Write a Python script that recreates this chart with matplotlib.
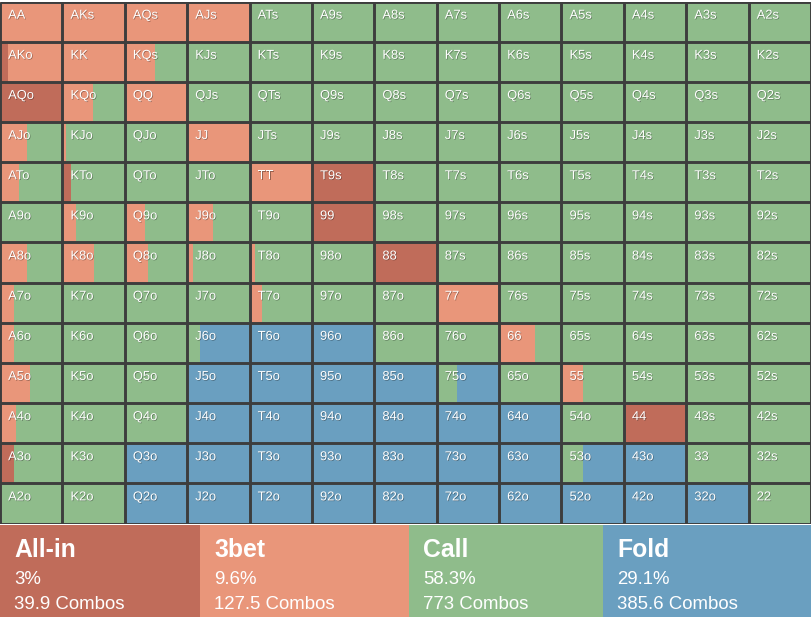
import matplotlib
matplotlib.use("Agg")
import matplotlib.pyplot as plt
import matplotlib.patheffects as pe

plt.rcParams['font.family'] = ['Liberation Sans', 'DejaVu Sans']

# ranks along rows/cols, suited above the diagonal, offsuit below
RANKS = ['A', 'K', 'Q', 'J', 'T', '9', '8', '7', '6', '5', '4', '3', '2']

# percent of each hand per action (row = first rank index, col = second)
allin = [
    [0, 0, 0, 0, 0, 0, 0, 0, 0, 0, 0, 0, 0],
    [13, 0, 0, 0, 0, 0, 0, 0, 0, 0, 0, 0, 0],
    [100, 0, 0, 0, 0, 0, 0, 0, 0, 0, 0, 0, 0],
    [0, 0, 0, 0, 0, 0, 0, 0, 0, 0, 0, 0, 0],
    [0, 14, 0, 0, 0, 100, 0, 0, 0, 0, 0, 0, 0],
    [0, 0, 0, 0, 0, 100, 0, 0, 0, 0, 0, 0, 0],
    [0, 0, 0, 0, 0, 0, 100, 0, 0, 0, 0, 0, 0],
    [0, 0, 0, 0, 0, 0, 0, 0, 0, 0, 0, 0, 0],
    [0, 0, 0, 0, 0, 0, 0, 0, 0, 0, 0, 0, 0],
    [0, 0, 0, 0, 0, 0, 0, 0, 0, 0, 0, 0, 0],
    [0, 0, 0, 0, 0, 0, 0, 0, 0, 0, 100, 0, 0],
    [22, 0, 0, 0, 0, 0, 0, 0, 0, 0, 0, 0, 0],
    [0, 0, 0, 0, 0, 0, 0, 0, 0, 0, 0, 0, 0],
]
threebet = [
    [100, 100, 100, 100, 0, 0, 0, 0, 0, 0, 0, 0, 0],
    [87, 100, 48, 0, 0, 0, 0, 0, 0, 0, 0, 0, 0],
    [0, 49, 100, 0, 0, 0, 0, 0, 0, 0, 0, 0, 0],
    [43, 5, 0, 100, 0, 0, 0, 0, 0, 0, 0, 0, 0],
    [30, 0, 0, 0, 100, 0, 0, 0, 0, 0, 0, 0, 0],
    [0, 22, 32, 41, 0, 0, 0, 0, 0, 0, 0, 0, 0],
    [43, 51, 37, 10, 9, 0, 0, 0, 0, 0, 0, 0, 0],
    [23, 0, 0, 0, 20, 0, 0, 100, 0, 0, 0, 0, 0],
    [22, 0, 0, 0, 0, 0, 0, 0, 57, 0, 0, 0, 0],
    [48, 0, 0, 0, 0, 0, 0, 0, 0, 35, 0, 0, 0],
    [26, 0, 0, 0, 0, 0, 0, 0, 0, 0, 0, 0, 0],
    [0, 0, 0, 0, 0, 0, 0, 0, 0, 0, 0, 0, 0],
    [0, 0, 0, 0, 0, 0, 0, 0, 0, 0, 0, 0, 0],
]
call = [
    [0, 0, 0, 0, 100, 100, 100, 100, 100, 100, 100, 100, 100],
    [0, 0, 52, 100, 100, 100, 100, 100, 100, 100, 100, 100, 100],
    [0, 51, 0, 100, 100, 100, 100, 100, 100, 100, 100, 100, 100],
    [57, 95, 100, 0, 100, 100, 100, 100, 100, 100, 100, 100, 100],
    [70, 86, 100, 100, 0, 0, 100, 100, 100, 100, 100, 100, 100],
    [100, 78, 68, 59, 100, 0, 100, 100, 100, 100, 100, 100, 100],
    [57, 49, 63, 90, 91, 100, 0, 100, 100, 100, 100, 100, 100],
    [77, 100, 100, 100, 80, 100, 100, 0, 100, 100, 100, 100, 100],
    [78, 100, 100, 20, 0, 0, 100, 100, 43, 100, 100, 100, 100],
    [52, 100, 100, 0, 0, 0, 0, 33, 100, 65, 100, 100, 100],
    [74, 100, 100, 0, 0, 0, 0, 0, 0, 100, 0, 100, 100],
    [78, 100, 0, 0, 0, 0, 0, 0, 0, 35, 0, 100, 100],
    [100, 100, 0, 0, 0, 0, 0, 0, 0, 0, 0, 0, 100],
]
fold = [
    [0, 0, 0, 0, 0, 0, 0, 0, 0, 0, 0, 0, 0],
    [0, 0, 0, 0, 0, 0, 0, 0, 0, 0, 0, 0, 0],
    [0, 0, 0, 0, 0, 0, 0, 0, 0, 0, 0, 0, 0],
    [0, 0, 0, 0, 0, 0, 0, 0, 0, 0, 0, 0, 0],
    [0, 0, 0, 0, 0, 0, 0, 0, 0, 0, 0, 0, 0],
    [0, 0, 0, 0, 0, 0, 0, 0, 0, 0, 0, 0, 0],
    [0, 0, 0, 0, 0, 0, 0, 0, 0, 0, 0, 0, 0],
    [0, 0, 0, 0, 0, 0, 0, 0, 0, 0, 0, 0, 0],
    [0, 0, 0, 80, 100, 100, 0, 0, 0, 0, 0, 0, 0],
    [0, 0, 0, 100, 100, 100, 100, 67, 0, 0, 0, 0, 0],
    [0, 0, 0, 100, 100, 100, 100, 100, 100, 0, 0, 0, 0],
    [0, 0, 100, 100, 100, 100, 100, 100, 100, 65, 100, 0, 0],
    [0, 0, 100, 100, 100, 100, 100, 100, 100, 100, 100, 100, 0],
]

ACTIONS = ['All-in', '3bet', 'Call', 'Fold']
ACTION_PCT = ['3%', '9.6%', '58.3%', '29.1%']
ACTION_COMBOS = ['39.9 Combos', '127.5 Combos', '773 Combos', '385.6 Combos']
COLORS = ['#c06c5a', '#e9967a', '#8fbc8b', '#6a9fc0']
GRID_COLOR = '#3d3d3d'

W, H = 811, 617
GRID_TOP, GRID_BOT = 1.6, 523.5
LEGEND_TOP = 525
LEGEND_EDGES = [0, 200, 409, 603, 811]

fig = plt.figure(figsize=(W / 100, H / 100), dpi=100)

ax = fig.add_axes([0, 1 - GRID_BOT / H, 1, (GRID_BOT - GRID_TOP) / H])
ax.set_xlim(0, 13)
ax.set_ylim(13, 0)
ax.axis('off')

shadow = [pe.SimplePatchShadow(offset=(0.5, -0.5), shadow_rgbFace='black', alpha=0.35), pe.Normal()]

for r in range(13):
    for c in range(13):
        left = c
        for mat, col in zip([allin, threebet, call, fold], COLORS):
            v = mat[r][c] / 100
            if v > 0:
                ax.barh(r + 0.5, v, left=left, height=1, color=col, linewidth=0)
                left += v
        if r == c:
            name = RANKS[r] + RANKS[c]
        elif r < c:
            name = RANKS[r] + RANKS[c] + 's'
        else:
            name = RANKS[c] + RANKS[r] + 'o'
        ax.text(c + 0.13, r + 0.425, name, color='white', fontsize=9.3,
                va='baseline', ha='left', path_effects=shadow)

ax.hlines(range(14), 0, 13, color=GRID_COLOR, linewidth=2.1)
ax.vlines(range(14), 0, 13, color=GRID_COLOR, linewidth=2.1)

# legend strip
lax = fig.add_axes([0, 0, 1, (H - LEGEND_TOP) / H])
lax.set_xlim(0, W)
lax.set_ylim(H, LEGEND_TOP)
lax.axis('off')
for i in range(4):
    x0, x1 = LEGEND_EDGES[i], LEGEND_EDGES[i + 1]
    lax.bar(x0, H - LEGEND_TOP, width=x1 - x0, bottom=LEGEND_TOP, align='edge',
            color=COLORS[i], linewidth=0)
    lax.text(x0 + 14, 557, ACTIONS[i], color='white', fontsize=17.8,
             fontweight='bold', va='baseline')
    lax.text(x0 + 14, 584, ACTION_PCT[i], color='white', fontsize=13.4, va='baseline')
    lax.text(x0 + 14, 609, ACTION_COMBOS[i], color='white', fontsize=13.4, va='baseline')

fig.savefig('out.png', dpi=100)
